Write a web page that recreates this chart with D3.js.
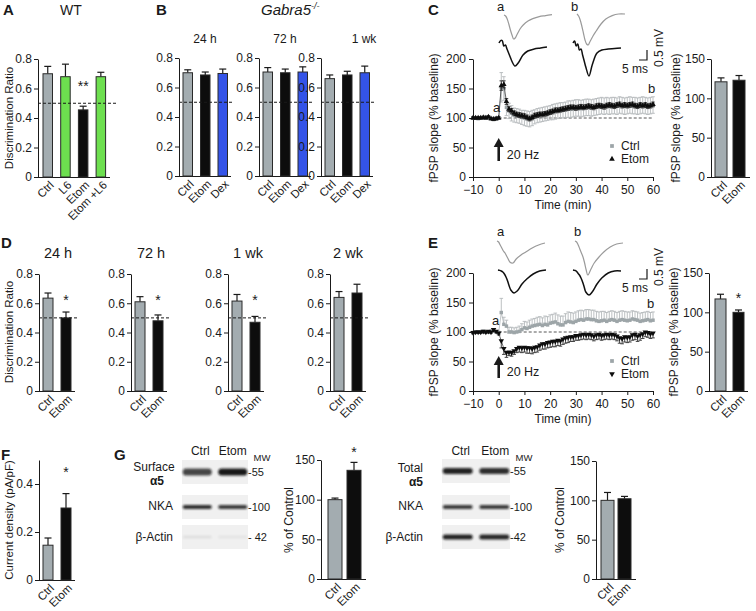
<!DOCTYPE html>
<html><head><meta charset="utf-8">
<script src="https://cdn.jsdelivr.net/npm/d3@7"></script>
<style>body{margin:0;background:#fff}svg{display:block}</style>
</head><body>
<svg id="chart" width="756" height="611"></svg>
<script>
// ---------------- DATA ----------------
const aCats = ["Ctrl", "L6", "Etom", "Etom +L6"];
const aVals = [0.70, 0.68, 0.455, 0.68];
const aErrs = [0.05, 0.085, 0.025, 0.03];

const bTitles = ["24 h", "72 h", "1 wk"];
const bCats = ["Ctrl", "Etom", "Dex"];
const bVals = [[0.70, 0.685, 0.695], [0.705, 0.70, 0.705], [0.66, 0.685, 0.70]];
const bErrs = [[0.02, 0.02, 0.03], [0.03, 0.025, 0.035], [0.025, 0.025, 0.045]];

const dTitles = ["24 h", "72 h", "1 wk", "2 wk"];
const dCats = ["Ctrl", "Etom"];
const dVals = [[0.635, 0.50], [0.61, 0.48], [0.615, 0.47], [0.64, 0.67]];
const dErrs = [[0.035, 0.04], [0.035, 0.04], [0.045, 0.04], [0.04, 0.06]];
const dStars = ["*", "*", "*", ""];

const ratioTicks = [0, 0.2, 0.4, 0.6, 0.8];
const chanceLevel = 0.5;

const fCats = ["Ctrl", "Etom"];
const fVals = [0.145, 0.30];
const fErrs = [0.03, 0.06];
const fTicks = [0, 0.2, 0.4];

const slopeTicks = [0, 50, 100, 150];
const cBarVals = [121, 123];
const cBarErrs = [5, 6];
const eBarVals = [117, 100];
const eBarErrs = [6, 3];

const gSurfVals = [100, 137];
const gSurfErrs = [2, 10];
const gTotVals = [100, 102];
const gTotErrs = [10, 3];

// time course (min)
const timeMin = [-10,-9,-8,-7,-6,-5,-4,-3,-2,-1,0,
 1,2,3,4,5,6,7,8,9,10, 11,12,13,14,15,16,17,18,19,20,
 21,22,23,24,25,26,27,28,29,30, 31,32,33,34,35,36,37,38,39,40,
 41,42,43,44,45,46,47,48,49,50, 51,52,53,54,55,56,57,58,59,60];
const timeTicks = [-10, 0, 10, 20, 30, 40, 50, 60];
const fpspTicks = [0, 50, 100, 150, 200];

const cCtrl = [100,100,99,100,100,101,100,99,98,99,100,
 152,150,118,112,108,105,104,103,101,100, 99,98,100,102,104,105,106,107,108,109,
 110,111,112,113,113,114,115,115,116,117, 117,116,117,118,118,117,118,119,120,121,
 120,121,120,121,121,120,122,121,120,121, 122,121,121,120,121,122,121,120,121,122];
const cCtrlErr = [2,2,2,2,2,2,2,2,3,3,2,
 25,20,14,13,13,12,12,12,12,13, 13,13,13,12,12,12,12,12,12,12,
 13,13,13,13,13,13,14,14,14,14, 14,14,14,14,14,14,14,14,14,14,
 14,14,14,14,14,14,14,14,14,14, 14,14,14,14,14,14,14,14,14,14];
const cEtom = [100,100,100,100,101,100,102,99,98,99,100,
 155,157,128,115,112,108,106,105,104,103, 101,99,101,104,105,106,106,107,108,110,
 111,113,113,114,115,116,117,118,118,117, 118,119,118,119,120,119,118,120,121,120,
 119,121,122,121,120,122,123,121,122,121, 122,123,121,120,122,121,122,120,121,123];
const cEtomErr = [2,2,2,2,2,2,2,2,2,2,2,
 8,6,5,4,4,4,4,4,4,4, 4,4,4,4,4,4,4,4,4,4,
 4,4,4,4,4,4,4,4,4,4, 4,4,4,4,4,4,4,4,4,4,
 4,4,4,4,4,4,4,4,4,4, 4,4,4,4,4,4,4,4,4,4];

const eCtrl = [99,100,100,100,101,100,100,101,102,100,99,
 133,113,110,100,100,99,100,101,104,107, 106,108,110,111,112,113,111,113,112,115,
 116,117,114,112,112,116,118,117,116,118, 120,121,120,122,122,121,121,119,118,119,
 120,118,120,121,120,118,120,121,120,119, 120,122,121,120,118,119,120,121,119,120];
const eCtrlErr = [2,2,2,2,2,2,2,2,3,2,2,
 24,12,10,8,8,8,8,9,10,11, 11,12,12,12,13,13,13,14,14,14,
 14,15,15,15,15,15,16,16,16,16, 16,16,16,16,16,16,16,16,16,16,
 15,15,15,15,15,15,15,15,15,15, 14,14,14,14,14,14,14,14,14,14];
const eEtom = [99,100,100,100,101,100,101,100,104,101,98,
 85,72,65,66,65,68,72,74,73,74, 73,73,72,74,75,78,80,80,82,83,
 84,84,86,85,88,90,91,92,92,94, 94,95,96,95,96,95,93,95,96,94,
 95,96,95,96,95,93,90,89,92,91, 92,95,96,93,95,97,100,99,97,98];
const eEtomErr = [2,2,2,2,2,2,2,2,3,2,3,
 12,10,8,6,6,6,7,8,8,8, 9,9,9,9,9,9,9,9,9,9,
 9,9,9,9,9,9,9,8,8,8, 8,8,8,8,8,8,8,8,8,8,
 8,8,8,8,8,8,9,9,9,9, 9,9,9,9,9,8,8,8,8,8];

// example fPSP traces (ms, mV)
const traceMs = [0,1,2,3,4,5,6,7,8,10,12,15,18,22,26,30];
const cTraceCtrlA = [0,-0.05,-0.2,-0.45,-0.75,-1.0,-1.2,-1.15,-1.0,-0.7,-0.5,-0.3,-0.18,-0.08,-0.03,0.02];
const cTraceEtomA = [0,0.12,0.12,-0.15,-0.1,-0.3,-0.5,-0.7,-0.9,-1.15,-1.0,-0.6,-0.4,-0.3,-0.25,-0.2];
const cTraceCtrlB = [0,-0.1,-0.3,-0.6,-0.95,-1.3,-1.5,-1.55,-1.4,-1.1,-0.85,-0.5,-0.25,-0.08,0,0];
const cTraceEtomB = [0,0.1,-0.15,-0.05,-0.35,-0.3,-0.6,-0.9,-1.2,-1.65,-1.1,-0.5,-0.35,-0.3,-0.28,-0.25];
const eTraceCtrlA = [0,-0.05,-0.2,-0.35,-0.5,-0.6,-0.75,-0.9,-1.05,-1.1,-0.9,-0.7,-0.55,-0.35,-0.2,-0.1];
const eTraceEtomA = [0,-0.02,-0.05,-0.1,-0.2,-0.35,-0.55,-0.8,-1.0,-1.15,-1.05,-0.7,-0.45,-0.2,-0.05,0];
const eTraceCtrlB = [0,-0.05,-0.2,-0.4,-0.6,-0.8,-1.1,-1.45,-1.7,-1.4,-1.1,-0.8,-0.55,-0.3,-0.15,-0.1];
const eTraceEtomB = [0,-0.02,-0.05,-0.15,-0.25,-0.4,-0.6,-0.85,-1.1,-1.25,-1.1,-0.7,-0.4,-0.15,-0.05,-0.05];

// western blot band intensities (Ctrl, Etom)
const blotLanes = ["Ctrl", "Etom"];
const surfA5 = [0.75, 0.95], surfNKA = [0.85, 0.8], surfActin = [0.07, 0.05];
const totA5 = [0.9, 0.85], totNKA = [0.8, 0.8], totActin = [0.9, 0.88];

// ---------------- DRAWING ----------------
const svg = d3.select("#chart")
  .attr("font-family", "'Liberation Sans', Arial, Helvetica, sans-serif");
const INK = "#1a1a1a";
const C_CTRL = "#a3acb0", C_GREEN = "#6ddf4f", C_BLUE = "#3454e8", C_ETOM = "#0d0d0d";

function label(x, y, s, o = {}) {
  const t = svg.append("text").attr("x", x).attr("y", y).text(s)
    .attr("font-size", o.size || 12).attr("text-anchor", o.anchor || "start")
    .attr("fill", o.fill || INK);
  if (o.weight) t.attr("font-weight", o.weight);
  if (o.style) t.attr("font-style", o.style);
  if (o.rotate) t.attr("transform", `rotate(${o.rotate},${x},${y})`);
  return t;
}

function styleAxis(ax) {
  ax.attr("font-family", null).attr("font-size", 12);
  ax.select(".domain").attr("stroke", INK);
  ax.selectAll(".tick line").attr("stroke", INK);
  ax.selectAll(".tick text").attr("fill", INK);
}

function barChart(o) {
  const g = svg.append("g");
  const y = d3.scaleLinear().domain([0, o.max]).range([o.yBot, o.yTop]);
  const n = o.cats.length;
  const pi = 1 - o.bw / o.step;
  const x = d3.scaleBand().domain(o.cats)
    .range([o.first, o.first + o.step * (n - pi)]).paddingInner(pi).paddingOuter(0);
  const ax = g.append("g").attr("transform", `translate(${o.x0},0)`)
    .call(d3.axisLeft(y).tickValues(o.ticks).tickSize(4).tickPadding(2).tickSizeOuter(0).tickFormat(d => String(d)));
  styleAxis(ax);
  g.append("line").attr("x1", o.x0).attr("x2", o.xEnd).attr("y1", o.yBot + 0.5).attr("y2", o.yBot + 0.5)
    .attr("stroke", INK);
  const eb = g.append("g").attr("stroke", INK).attr("stroke-width", 1.2);
  o.vals.forEach((v, i) => {
    const cx = x(o.cats[i]) + x.bandwidth() / 2;
    eb.append("line").attr("x1", cx).attr("x2", cx).attr("y1", y(v)).attr("y2", y(v + o.errs[i]));
    eb.append("line").attr("x1", cx - 3.5).attr("x2", cx + 3.5).attr("y1", y(v + o.errs[i])).attr("y2", y(v + o.errs[i]));
  });
  g.selectAll("rect.bar").data(o.vals).join("rect").attr("class", "bar")
    .attr("x", (d, i) => x(o.cats[i])).attr("width", x.bandwidth())
    .attr("y", d => y(d)).attr("height", d => o.yBot - y(d))
    .attr("fill", (d, i) => o.colors[i]).attr("stroke", "#2a2a2a").attr("stroke-width", 1);
  if (o.dash != null) {
    g.append("line").attr("x1", o.x0).attr("x2", o.dashEnd).attr("y1", y(o.dash)).attr("y2", y(o.dash))
      .attr("stroke", INK).attr("stroke-dasharray", "3,2").attr("stroke-width", 1);
  }
  (o.stars || []).forEach(s => {
    if (!s.s) return;
    const cx = x(o.cats[s.i]) + x.bandwidth() / 2;
    label(cx, y(s.v), s.s, { size: 14, anchor: "middle" });
  });
  o.cats.forEach((c, i) => {
    const cx = x(c) + x.bandwidth() / 2 + 4;
    const yy = o.yBot + 6;
    svg.append("text").attr("x", cx).attr("y", yy).attr("dy", "0.35em").text(c)
      .attr("font-size", 11.5).attr("text-anchor", "end").attr("fill", INK)
      .attr("transform", `rotate(-45,${cx},${yy})`);
  });
  return { x, y };
}

// ---- Panel A ----
label(3, 15, "A", { size: 15, weight: "bold" });
label(71, 15, "WT", { size: 14, anchor: "middle" });
barChart({ x0: 38, yTop: 59, yBot: 177, max: 0.8, ticks: ratioTicks, cats: aCats, vals: aVals, errs: aErrs,
  colors: [C_CTRL, C_GREEN, C_ETOM, C_GREEN], first: 43, step: 17.7, bw: 9.5, xEnd: 110,
  dash: chanceLevel, dashEnd: 118, stars: [{ i: 2, v: 0.58, s: "**" }] });
label(13, 118, "Discrimination Ratio", { size: 11.5, anchor: "middle", rotate: -90 });

// ---- Panel B ----
label(156, 15, "B", { size: 15, weight: "bold" });
const gab = label(261, 15, "Gabra5", { size: 15, style: "italic" });
gab.append("tspan").attr("dy", -6).attr("font-size", 9).text("-/-");
const bX0 = [179, 259, 321];
const bTitleX = [205, 285, 364];
bX0.forEach((x0, k) => {
  label(bTitleX[k], 43, bTitles[k], { size: 12, anchor: "middle" });
  barChart({ x0, yTop: 58, yBot: 176, max: 0.8, ticks: ratioTicks, cats: bCats, vals: bVals[k], errs: bErrs[k],
    colors: [C_CTRL, C_ETOM, C_BLUE], first: x0 + 4, step: 17.5, bw: 9.5, xEnd: x0 + 52,
    dash: chanceLevel, dashEnd: x0 + 55 });
});

// ---- Panel D ----
label(1, 248, "D", { size: 15, weight: "bold" });
const dX0 = [39, 131, 228, 330];
const dTitleX = [58, 151, 248, 348];
dX0.forEach((x0, k) => {
  label(dTitleX[k], 258, dTitles[k], { size: 14.5, anchor: "middle" });
  barChart({ x0, yTop: 274, yBot: 391, max: 0.8, ticks: ratioTicks, cats: dCats, vals: dVals[k], errs: dErrs[k],
    colors: [C_CTRL, C_ETOM], first: x0 + 4, step: 18, bw: 10, xEnd: x0 + 36,
    dash: chanceLevel, dashEnd: x0 + 40, stars: [{ i: 1, v: 0.585, s: dStars[k] }] });
});
label(13, 332, "Discrimination Ratio", { size: 11.5, anchor: "middle", rotate: -90 });

// ---- Panel F ----
label(1, 460, "F", { size: 15, weight: "bold" });
barChart({ x0: 39, yTop: 460, yBot: 580, max: 0.5, ticks: fTicks, cats: fCats, vals: fVals, errs: fErrs,
  colors: [C_CTRL, C_ETOM], first: 43, step: 18, bw: 10, xEnd: 75,
  stars: [{ i: 1, v: 0.43, s: "*" }] });
label(13, 520, "Current density (pA/pF)", { size: 11.5, anchor: "middle", rotate: -90 });

// ---- time-course panels C & E ----
function traceLine(ox, oy, vals, color, w) {
  const tx = d3.scaleLinear().domain([0, 30]).range([ox, ox + 48]);
  const ty = d3.scaleLinear().domain([0, -1]).range([oy, oy + 20]);
  const line = d3.line().x((d, i) => tx(traceMs[i])).y(d => ty(d)).curve(d3.curveCatmullRom.alpha(0.5));
  svg.append("path").attr("d", line(vals)).attr("fill", "none").attr("stroke", color).attr("stroke-width", w);
}

function scaleBar(cx, cy) {
  const sx = d3.scaleLinear().domain([0, 5]).range([cx - 8, cx]);
  const sy = d3.scaleLinear().domain([0, 0.5]).range([cy, cy - 10]);
  svg.append("path").attr("d", `M${sx(0)},${sy(0)}H${sx(5)}V${sy(0.5)}`).attr("fill", "none")
    .attr("stroke", INK).attr("stroke-width", 1.2);
  label(cx - 25, cy + 13, "5 ms", { size: 12 });
  label(cx + 16, cy - 12, "0.5 mV", { size: 12, anchor: "middle", rotate: -90 });
}

function timePanel(o) {
  const x = d3.scaleLinear().domain([-10, 60]).range([473, 653]);
  const y = d3.scaleLinear().domain([0, 200]).range([o.yBot, o.yTop]);
  const axL = svg.append("g").attr("transform", "translate(473,0)")
    .call(d3.axisLeft(y).tickValues(fpspTicks).tickSize(4).tickPadding(3).tickSizeOuter(0));
  styleAxis(axL);
  const axB = svg.append("g").attr("transform", `translate(0,${o.yBot})`)
    .call(d3.axisBottom(x).tickValues(timeTicks).tickSize(4).tickPadding(4).tickSizeOuter(0));
  styleAxis(axB);
  label(563, o.yBot + 32, "Time (min)", { size: 12, anchor: "middle" });
  label(438, (o.yTop + o.yBot) / 2, "fPSP slope (% baseline)", { size: 12, anchor: "middle", rotate: -90 });
  svg.append("line").attr("x1", x(0)).attr("x2", x(60)).attr("y1", y(100)).attr("y2", y(100))
    .attr("stroke", "#444").attr("stroke-dasharray", "3,2").attr("stroke-width", 0.9);

  function series(vals, errs, color, errColor, mode, marker) {
    const g = svg.append("g");
    const eg = g.append("g").attr("stroke", errColor).attr("stroke-width", 0.9);
    vals.forEach((v, i) => {
      const cx = x(timeMin[i]);
      const lo = mode === "up" ? v : v - errs[i];
      const hi = mode === "down" ? v : v + errs[i];
      eg.append("line").attr("x1", cx).attr("x2", cx).attr("y1", y(lo)).attr("y2", y(hi));
      if (mode !== "down") eg.append("line").attr("x1", cx - 1.8).attr("x2", cx + 1.8).attr("y1", y(hi)).attr("y2", y(hi));
      if (mode !== "up") eg.append("line").attr("x1", cx - 1.8).attr("x2", cx + 1.8).attr("y1", y(lo)).attr("y2", y(lo));
    });
    g.append("path").attr("d", d3.line().x((d, i) => x(timeMin[i])).y(d => y(d))(vals))
      .attr("fill", "none").attr("stroke", color).attr("stroke-width", 0.6);
    const sym = d3.symbol().type(marker === "square" ? d3.symbolSquare : d3.symbolTriangle)
      .size(marker === "square" ? 12 : 13);
    g.selectAll("path.m").data(vals).join("path").attr("class", "m")
      .attr("d", sym).attr("fill", color)
      .attr("transform", (d, i) => `translate(${x(timeMin[i])},${y(d)})${marker === "tridown" ? " rotate(180)" : ""}`);
  }
  series(o.ctrl, o.ctrlErr, "#9da5a8", "#b4b9bb", o.ctrlMode, "square");
  series(o.etom, o.etomErr, C_ETOM, "#333", o.etomMode, o.etomMarker);

  const ax0 = x(0);
  svg.append("line").attr("x1", ax0).attr("x2", ax0).attr("y1", o.arrowBot).attr("y2", o.arrowTop + 8)
    .attr("stroke", INK).attr("stroke-width", 2.6);
  svg.append("path").attr("d", `M${ax0 - 5},${o.arrowTop + 9}L${ax0 + 5},${o.arrowTop + 9}L${ax0},${o.arrowTop}Z`).attr("fill", INK);
  label(ax0 + 8, o.arrowBot - 2, "20 Hz", { size: 12.5 });
  const lg = svg.append("g");
  lg.append("path").attr("d", d3.symbol().type(d3.symbolSquare).size(14))
    .attr("transform", `translate(612,${o.legY})`).attr("fill", "#9da5a8");
  lg.append("path").attr("d", d3.symbol().type(d3.symbolTriangle).size(14)).attr("fill", C_ETOM)
    .attr("transform", `translate(612,${o.legY + 13})${o.etomMarker === "tridown" ? " rotate(180)" : ""}`);
  label(621, o.legY + 4, "Ctrl", { size: 12 });
  label(621, o.legY + 17, "Etom", { size: 12 });
  label(o.aPos[0], o.aPos[1], "a", { size: 13 });
  label(o.bPos[0], o.bPos[1], "b", { size: 13 });
}

// ---- Panel C ----
label(428, 15, "C", { size: 15, weight: "bold" });
label(497, 11, "a", { size: 13 });
label(571, 11, "b", { size: 13 });
traceLine(504, 15, cTraceCtrlA, "#9a9a9a", 1.2);
traceLine(499, 43, cTraceEtomA, "#111", 1.5);
traceLine(577, 14, cTraceCtrlB, "#9a9a9a", 1.2);
traceLine(573, 43, cTraceEtomB, "#111", 1.5);
scaleBar(647, 60);
timePanel({ yTop: 59, yBot: 177, ctrl: cCtrl, ctrlErr: cCtrlErr, etom: cEtom, etomErr: cEtomErr,
  ctrlMode: "both", etomMode: "both", etomMarker: "triangle", arrowTop: 138, arrowBot: 161, legY: 146,
  aPos: [493, 112], bPos: [648, 93] });
barChart({ x0: 711, yTop: 59, yBot: 177, max: 150, ticks: slopeTicks, cats: ["Ctrl", "Etom"], vals: cBarVals,
  errs: cBarErrs, colors: [C_CTRL, C_ETOM], first: 715, step: 18, bw: 12, xEnd: 750 });
label(680, 118, "fPSP slope (% baseline)", { size: 12, anchor: "middle", rotate: -90 });

// ---- Panel E ----
label(428, 248, "E", { size: 15, weight: "bold" });
label(497, 236, "a", { size: 13 });
label(574, 236, "b", { size: 13 });
traceLine(497, 241, eTraceCtrlA, "#9a9a9a", 1.2);
traceLine(498, 270, eTraceEtomA, "#111", 1.5);
traceLine(575, 241, eTraceCtrlB, "#9a9a9a", 1.2);
traceLine(573, 270, eTraceEtomB, "#111", 1.5);
scaleBar(647, 279);
timePanel({ yTop: 273, yBot: 391, ctrl: eCtrl, ctrlErr: eCtrlErr, etom: eEtom, etomErr: eEtomErr,
  ctrlMode: "up", etomMode: "down", etomMarker: "tridown", arrowTop: 356, arrowBot: 378, legY: 361,
  aPos: [492, 325], bPos: [647, 308] });
barChart({ x0: 709, yTop: 273, yBot: 391, max: 150, ticks: slopeTicks, cats: ["Ctrl", "Etom"], vals: eBarVals,
  errs: eBarErrs, colors: [C_CTRL, C_ETOM], first: 715, step: 18, bw: 11, xEnd: 748,
  stars: [{ i: 1, v: 112, s: "*" }] });
label(678, 332, "fPSP slope (% baseline)", { size: 12, anchor: "middle", rotate: -90 });

// ---- Panel G ----
label(114, 460, "G", { size: 15, weight: "bold" });
const defs = svg.append("defs");
defs.append("filter").attr("id", "blur").attr("x", "-20%").attr("y", "-100%").attr("width", "140%").attr("height", "300%")
  .append("feGaussianBlur").attr("stdDeviation", 1.3);

function blot(x0, x1, rows, colX, mwX) {
  const lane = d3.scaleBand().domain(blotLanes).range([x0, x1]).paddingInner(0.18).paddingOuter(0.02);
  rows.forEach(r => {
    svg.append("rect").attr("x", x0).attr("y", r.yc - 12).attr("width", x1 - x0).attr("height", 24)
      .attr("fill", "#f0f0f0");
    blotLanes.forEach((l, i) => {
      svg.append("rect").attr("x", lane(l)).attr("y", r.yc - r.h / 2).attr("width", lane.bandwidth()).attr("height", r.h)
        .attr("rx", r.h / 2).attr("fill", "#111").attr("opacity", r.vals[i]).attr("filter", "url(#blur)");
    });
    label(mwX, r.yc + 4, r.mw, { size: 11 });
  });
  blotLanes.forEach((l, i) => label(lane(l) + lane.bandwidth() / 2 + colX[i], 455, l, { size: 12, anchor: "middle" }));
  label(x1 + 14, 461, "MW", { size: 9.5, anchor: "middle" });
}
blot(182, 248, [
  { yc: 472, h: 7, vals: surfA5, mw: "-55" },
  { yc: 507, h: 4, vals: surfNKA, mw: "-100" },
  { yc: 537, h: 3, vals: surfActin, mw: "- 42" }], [3, 0], 248);
label(154, 471, "Surface", { size: 12, anchor: "middle" });
label(157, 485, "α5", { size: 12, anchor: "middle", weight: "bold" });
label(173, 510, "NKA", { size: 12, anchor: "end" });
label(173, 541, "β-Actin", { size: 12, anchor: "end" });

blot(442, 510, [
  { yc: 471, h: 6, vals: totA5, mw: "-55" },
  { yc: 507, h: 4, vals: totNKA, mw: "-100" },
  { yc: 537, h: 5, vals: totActin, mw: "-42" }], [3, 1], 510);
label(423, 472, "Total", { size: 12, anchor: "end" });
label(423, 486, "α5", { size: 12, anchor: "end", weight: "bold" });
label(423, 510, "NKA", { size: 12, anchor: "end" });
label(423, 541, "β-Actin", { size: 12, anchor: "end" });

barChart({ x0: 321, yTop: 460, yBot: 579, max: 150, ticks: slopeTicks, cats: ["Ctrl", "Etom"], vals: gSurfVals,
  errs: gSurfErrs, colors: [C_CTRL, C_ETOM], first: 328, step: 19, bw: 14, xEnd: 366,
  stars: [{ i: 1, v: 154, s: "*" }] });
label(293, 520, "% of Control", { size: 12, anchor: "middle", rotate: -90 });
barChart({ x0: 596, yTop: 461, yBot: 579, max: 150, ticks: slopeTicks, cats: ["Ctrl", "Etom"], vals: gTotVals,
  errs: gTotErrs, colors: [C_CTRL, C_ETOM], first: 601, step: 17, bw: 13, xEnd: 636 });
label(564, 520, "% of Control", { size: 12, anchor: "middle", rotate: -90 });
</script>
</body></html>
